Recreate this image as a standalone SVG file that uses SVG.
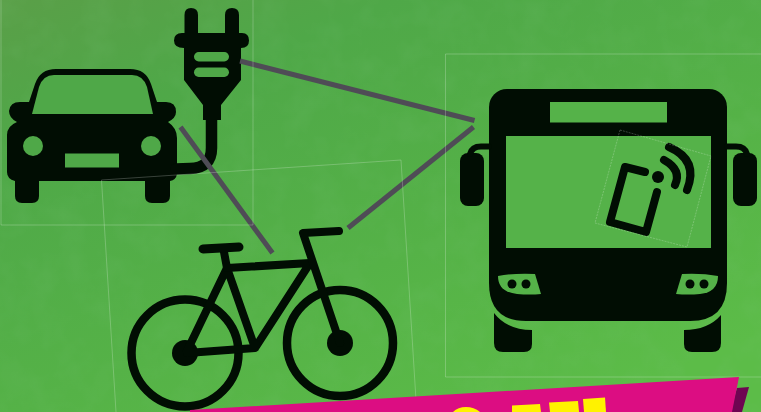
<svg xmlns="http://www.w3.org/2000/svg" width="761" height="412" viewBox="0 0 761 412">
<style>
.k{fill:#010d03}
.g{fill:#4fa848}
.w{fill:#55b249}
.ln{fill:none;stroke:#010d03;stroke-linecap:round;stroke-linejoin:round}
.fr{fill:none;stroke:#fff;stroke-opacity:.22;stroke-width:1}
.cn{fill:none;stroke:#4f4c56;stroke-width:5}
</style>
<defs>
<linearGradient id="bg" x1="0" y1="0" x2="0.75" y2="1">
<stop offset="0" stop-color="#5a9f48"/>
<stop offset=".25" stop-color="#4fa848"/>
<stop offset=".65" stop-color="#55b247"/>
<stop offset="1" stop-color="#5cbc48"/>
</linearGradient>
<filter id="tx" x="0" y="0" width="100%" height="100%">
<feTurbulence type="fractalNoise" baseFrequency=".035" numOctaves="3" seed="4"/>
<feColorMatrix values="0 0 0 0 .2  0 0 0 0 .55  0 0 0 0 .2  1.4 0 0 0 -.55"/>
</filter>
</defs>
<rect id="background" width="761" height="412" fill="url(#bg)"/>
<rect width="761" height="412" filter="url(#tx)" opacity=".18"/>

<g id="car">
<path class="k" d="M17,122 Q9,118 9,111 Q10,102 20,102 L29,102 L35,84 Q40,69 56,69 L130,69 Q146,69 151,84 L157,102 L166,102 Q176,102 176,112 Q176,118 168,122 Q177,128 177,138 L177,174 Q176,180 170,181 L170,196 Q170,203 163,203 L152,203 Q145,203 145,196 L145,181 L39,181 L39,196 Q39,203 32,203 L22,203 Q15,203 15,196 L15,181 Q7,179 7,172 L7,135 Q7,126 17,122Z"/>
<path class="g" d="M32,114 L39,87 Q43,75 54,75 L132,75 Q143,75 147,87 L153,114Z"/>
<circle class="g" cx="33" cy="146" r="10"/>
<circle class="g" cx="151" cy="146" r="10"/>
<rect class="g" x="65" y="153.500" width="54" height="14"/>
</g>

<g id="plug">
<path class="ln" d="M211.500,118 L211.500,148 Q211.500,168 190,168.500 L176,169" stroke-width="11.500" stroke-linecap="butt"/>
<path class="k" d="M184.500,33 L184.500,15 Q184.500,8 191,8 Q198,8 198,15 L198,33 L225,33 L225,15 Q225,8 232,8 Q239,8 239,15 L239,33 L242,33 Q249,33 249,40.500 Q249,48 241,48 L241,80 L221,105 L221,120 L203,120 L203,105 L184,80 L184,48 Q174,48 174,40.500 Q174,33 182,33Z"/>
<rect class="g" x="194" y="52" width="35" height="9.500" rx="4.700"/>
<rect class="g" x="194" y="67.500" width="35" height="9.500" rx="4.700"/>
</g>

<g id="bus">
<rect class="k" x="489" y="89" width="238" height="100" rx="18"/>
<path class="k" d="M489,110 L727,110 L727,283 Q727,321 690,321 L526,321 Q489,321 489,283Z"/>
<path class="k" d="M494,313 Q507,330 532,330 L532,344 Q532,352 524,352 L503,352 Q494,352 494,343Z"/>
<path class="k" d="M721,315 Q708,330 684,330 L684,344 Q684,352 692,352 L712,352 Q721,352 721,343Z"/>
<rect class="w" x="550" y="102" width="117" height="20.500"/>
<rect class="w" x="506" y="136" width="205" height="112"/>
<rect class="k" x="460" y="153" width="24" height="53" rx="8"/>
<rect class="k" x="733" y="153" width="24" height="53" rx="8"/>
<path class="ln" d="M489,146.500 L481,146.500 Q472,146.500 470,154" stroke-width="6" stroke-linecap="butt"/>
<path class="ln" d="M727,146.500 L736,146.500 Q745,146.500 747,154" stroke-width="6" stroke-linecap="butt"/>
<path class="w" d="M498,276 Q514,273 535,274 L541,294 Q530,295 517,294 Q498,292 498,276Z"/>
<path class="w" d="M718,276 Q702,273 682,274 L676,294 Q688,295 700,294 Q718,292 718,276Z"/>
<circle class="k" cx="512" cy="284" r="4.500"/>
<circle class="k" cx="526" cy="284" r="4.500"/>
<circle class="k" cx="690" cy="284" r="4.500"/>
<circle class="k" cx="704" cy="284" r="4.500"/>
<path class="ln" d="M645,172 L625,167 L610,222 L646,232 L657,192" stroke-width="8"/>
<circle class="k" cx="658" cy="177" r="6"/>
<path class="ln" d="M664,160 Q682,170 675,185" stroke-width="8"/>
<path class="ln" d="M669,147 Q699,160 687,190" stroke-width="8"/>
</g>

<g id="bicycle">
<circle class="ln" cx="185" cy="353" r="53.500" stroke-width="8.500"/>
<circle class="ln" cx="340" cy="343" r="53" stroke-width="8.500"/>
<circle class="k" cx="185" cy="353" r="13"/>
<circle class="k" cx="340" cy="343" r="13"/>
<path class="ln" d="M187,351 L227,268 L310,263 L255,348 L187,353 M227,268 L255,348" stroke-width="8"/>
<path class="ln" d="M340,343 L303,233 L339,231" stroke-width="8"/>
<path class="ln" d="M224,252 L227,268" stroke-width="8"/>
<path class="ln" d="M203,249 L239,247" stroke-width="9"/>
</g>

<g id="connectors">
<path class="cn" d="M240,61 L474.500,120.500"/>
<path class="cn" d="M180.500,127 L272.500,253"/>
<path class="cn" d="M473.500,127 L348,228"/>
</g>

<g id="frames">
<path class="fr" d="M1,0 L1,225 L253,225 L253,0"/>
<path class="fr" d="M116,412 L101.500,180 L401,160 L416,400"/>
<path class="fr" d="M761,54 L445.500,54 L445.500,377 L761,377"/>
<path class="fr" stroke-dasharray="2 1" d="M620,130 L711,156 L687,247 L595,223Z"/>
</g>

<g id="banner">
<path fill="#6e0552" d="M737,388 L749,387 L742,412 L730,412Z"/>
<path fill="#dc0d82" d="M190,412 L190,410 L739,377 L732,412Z"/>
<path fill="#fff200" d="M453,412 Q458,407 466,407 Q474,407 480,412Z"/>
<path fill="#fff200" d="M512,405.500 L540,404 L541,412 L512,412Z"/>
<path fill="#fff200" d="M549,402.500 L578,401 L579,412 L550,412Z"/>
<path fill="#fff200" d="M583,399 L605,397.500 L606,412 L584,412Z"/>
</g>
</svg>
